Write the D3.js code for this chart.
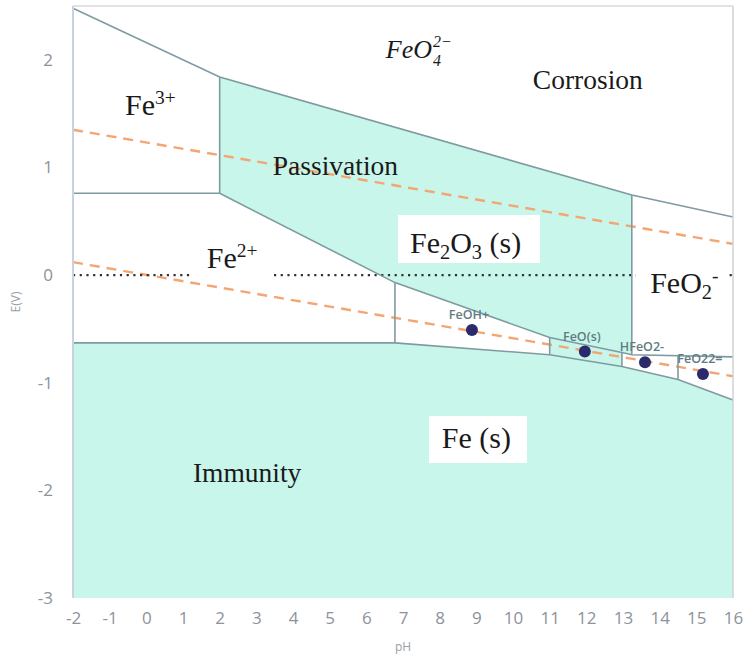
<!DOCTYPE html>
<html>
<head>
<meta charset="utf-8">
<script src="https://cdn.jsdelivr.net/npm/d3@7"></script>
<style>
  html, body { margin: 0; padding: 0; background: #fff; }
  svg { display: block; }
</style>
</head>
<body>
<svg id="chart" width="745" height="657"></svg>
<script>
'use strict';

// axis ticks
var phTicks = [-2, -1, 0, 1, 2, 3, 4, 5, 6, 7, 8, 9, 10, 11, 12, 13, 14, 15, 16];
var eTicks = [-3, -2, -1, 0, 1, 2];

// domain boundaries, points are [pH, E]
var topBoundary = [[-2, 2.48], [2, 1.84], [13.24, 0.744], [16, 0.54]];
var fe3Fe2Boundary = [[-2, 0.76], [2, 0.76], [2, 1.84]];
var oxideLowerBoundary = [[2, 0.76], [6.78, -0.07], [11.0, -0.58], [12.97, -0.72], [13.24, -0.74], [16, -0.76]];
var ferriteBoundary = [[13.24, 0.744], [13.24, -0.74]];
var ironUpperBoundary = [[-2, -0.63], [6.78, -0.63], [11.0, -0.74], [12.97, -0.85], [14.5, -0.97], [16, -1.16]];
var dividers = [
  [[6.78, -0.07], [6.78, -0.63]],
  [[11.0, -0.58], [11.0, -0.74]],
  [[12.97, -0.72], [12.97, -0.85]],
  [[14.5, -0.75], [14.5, -0.97]]
];

// filled regions
var passivationRegion = [[2, 1.84], [13.24, 0.744], [13.24, -0.74], [12.97, -0.72], [11.0, -0.58], [6.78, -0.07], [2, 0.76]];
var feoRegion = [[11.0, -0.58], [12.97, -0.72], [12.97, -0.85], [11.0, -0.74]];
var immunityRegion = [[-2, -0.63], [6.78, -0.63], [11.0, -0.74], [12.97, -0.85], [14.5, -0.97], [16, -1.16], [16, -3], [-2, -3]];

// water lines and E = 0
var oxygenLine = [[-2, 1.35], [16, 0.29]];
var hydrogenLine = [[-2, 0.12], [16, -0.94]];
var zeroLine = [[-2, 0], [16, 0]];

// minor species markers
var speciesNames = ['FeOH+', 'FeO(s)', 'HFeO2-', 'FeO22='];
var speciesPH = [8.88, 11.96, 13.6, 15.18];
var speciesE = [-0.51, -0.71, -0.81, -0.92];

var margin = {top: 6, right: 12, bottom: 59, left: 73},
    width = 745 - margin.left - margin.right,
    height = 657 - margin.top - margin.bottom;

var svg = d3.select('#chart');
var g = svg.append('g')
    .attr('transform', 'translate(' + margin.left + ',' + margin.top + ')');

var x = d3.scaleLinear().domain([-2, 16]).range([0, width]);
var y = d3.scaleLinear().domain([-3, 2.5]).range([height, 0]);

var line = d3.line()
    .x(function (d) { return x(d[0]); })
    .y(function (d) { return y(d[1]); });

var teal = '#c8f6eb',
    edge = '#7f9ba1';

// regions
[passivationRegion, feoRegion, immunityRegion].forEach(function (region) {
  g.append('path')
      .attr('d', line(region) + 'Z')
      .attr('fill', teal);
});

// water stability lines
[oxygenLine, hydrogenLine].forEach(function (l) {
  g.append('path')
      .attr('d', line(l))
      .attr('fill', 'none')
      .attr('stroke', '#f3a673')
      .attr('stroke-width', 2.4)
      .attr('stroke-dasharray', '10,7');
});

g.append('path')
    .attr('d', line(zeroLine))
    .attr('fill', 'none')
    .attr('stroke', '#333')
    .attr('stroke-width', 2.2)
    .attr('stroke-dasharray', '2.2,4.5');

// boundaries
[topBoundary, fe3Fe2Boundary, oxideLowerBoundary, ferriteBoundary, ironUpperBoundary]
  .concat(dividers)
  .forEach(function (b) {
    g.append('path')
        .attr('d', line(b))
        .attr('fill', 'none')
        .attr('stroke', edge)
        .attr('stroke-width', 1.6);
  });

// white boxes behind some labels (pixel boxes, relative to plot)
function box(x0, y0, x1, y1) {
  g.append('rect')
      .attr('x', x0 - margin.left)
      .attr('y', y0 - margin.top)
      .attr('width', x1 - x0)
      .attr('height', y1 - y0)
      .attr('fill', '#fff');
}
box(398, 215, 540, 263);
box(429, 416, 527, 463);
box(193, 240, 273, 279);
box(636, 262, 727, 308);

// labels
var serif = '"Liberation Serif", "Times New Roman", serif';

function chem(ph, e, parts, size, opts) {
  opts = opts || {};
  var t = g.append('text')
      .attr('x', x(ph))
      .attr('y', y(e))
      .attr('font-family', serif)
      .attr('font-size', size)
      .attr('fill', '#1a1a1a')
      .attr('text-anchor', opts.anchor || 'start')
      .attr('font-style', opts.italic ? 'italic' : null);
  var shift = 0;
  parts.forEach(function (p) {
    var target = 0, fs = size;
    if (p.sup) { target = -size * 0.36; fs = size * 0.65; }
    if (p.sub) { target = size * 0.2; fs = size * 0.68; }
    t.append('tspan')
        .attr('dy', target - shift)
        .attr('font-size', fs)
        .text(p.t);
    shift = target;
  });
  return t;
}

chem(-0.58, 1.49, [{t: 'Fe'}, {t: '3+', sup: true}], 30);
chem(1.65, 0.066, [{t: 'Fe'}, {t: '2+', sup: true}], 30);
chem(7.19, 0.205, [{t: 'Fe'}, {t: '2', sub: true}, {t: 'O'}, {t: '3', sub: true}, {t: ' (s)'}], 30);
chem(13.74, -0.166, [{t: 'FeO'}, {t: '2', sub: true}, {t: '-', sup: true}], 30);
chem(8.06, -1.606, [{t: 'Fe (s)'}], 30);

chem(10.54, 1.73, [{t: 'Corrosion'}], 27.5);
chem(3.45, 0.93, [{t: 'Passivation'}], 27.5);
chem(1.27, -1.92, [{t: 'Immunity'}], 27.5);

// ferrate, with stacked sub/superscript
chem(7.79, 2.017, [{t: 'FeO'}], 26, {anchor: 'end', italic: true});
g.append('text')
    .attr('x', x(7.79) + 1)
    .attr('y', y(2.017) - 11)
    .attr('font-family', serif)
    .attr('font-style', 'italic')
    .attr('font-size', 16)
    .attr('fill', '#1a1a1a')
    .text('2\u2212');
g.append('text')
    .attr('x', x(7.79) + 1)
    .attr('y', y(2.017) + 8)
    .attr('font-family', serif)
    .attr('font-style', 'italic')
    .attr('font-size', 16)
    .attr('fill', '#1a1a1a')
    .text('4');

// species markers
var species = speciesNames.map(function (n, i) {
  return {name: n, ph: speciesPH[i], e: speciesE[i]};
});

g.selectAll('circle.species')
    .data(species)
  .enter().append('circle')
    .attr('class', 'species')
    .attr('cx', function (d) { return x(d.ph); })
    .attr('cy', function (d) { return y(d.e); })
    .attr('r', 6)
    .attr('fill', '#2b2a6b');

g.selectAll('text.species')
    .data(species)
  .enter().append('text')
    .attr('class', 'species')
    .attr('x', function (d) { return x(d.ph) - 3; })
    .attr('y', function (d) { return y(d.e) - 11; })
    .attr('text-anchor', 'middle')
    .attr('font-family', '"Open Sans", sans-serif')
    .attr('font-size', 12.5)
    .attr('font-weight', 600)
    .attr('fill', '#5f7b81')
    .text(function (d) { return d.name; });

// frame
g.append('line')
    .attr('x1', 0).attr('x2', width).attr('y1', 0).attr('y2', 0)
    .attr('stroke', '#e2e2e2').attr('stroke-width', 2);
g.append('line')
    .attr('x1', width).attr('x2', width).attr('y1', 0).attr('y2', height)
    .attr('stroke', '#cfd2d4').attr('stroke-width', 1.5);
g.append('line')
    .attr('x1', 0).attr('x2', 0).attr('y1', 0).attr('y2', height)
    .attr('stroke', '#c8d2e2').attr('stroke-width', 2);

// axes
var fmt = function (d) { return String(d); };
var xAxis = g.append('g')
    .attr('transform', 'translate(0,' + height + ')')
    .call(d3.axisBottom(x).tickValues(phTicks).tickFormat(fmt).tickSize(0).tickPadding(14));
var yAxis = g.append('g')
    .call(d3.axisLeft(y).tickValues(eTicks).tickFormat(fmt).tickSize(0).tickPadding(20));

[xAxis, yAxis].forEach(function (a) {
  a.select('.domain').remove();
  a.selectAll('text')
      .attr('font-family', '"Open Sans", sans-serif')
      .attr('font-size', 17)
      .attr('fill', '#8d929b');
});

svg.append('text')
    .attr('transform', 'translate(20,' + (margin.top + height / 2) + ') rotate(-90)')
    .attr('text-anchor', 'middle')
    .attr('font-family', '"Open Sans", sans-serif')
    .attr('font-size', 12)
    .attr('fill', '#9aa0a6')
    .text('E(V)');

svg.append('text')
    .attr('x', margin.left + width / 2)
    .attr('y', 651)
    .attr('text-anchor', 'middle')
    .attr('font-family', '"Open Sans", sans-serif')
    .attr('font-size', 12)
    .attr('fill', '#9aa0a6')
    .text('pH');
</script>
</body>
</html>
